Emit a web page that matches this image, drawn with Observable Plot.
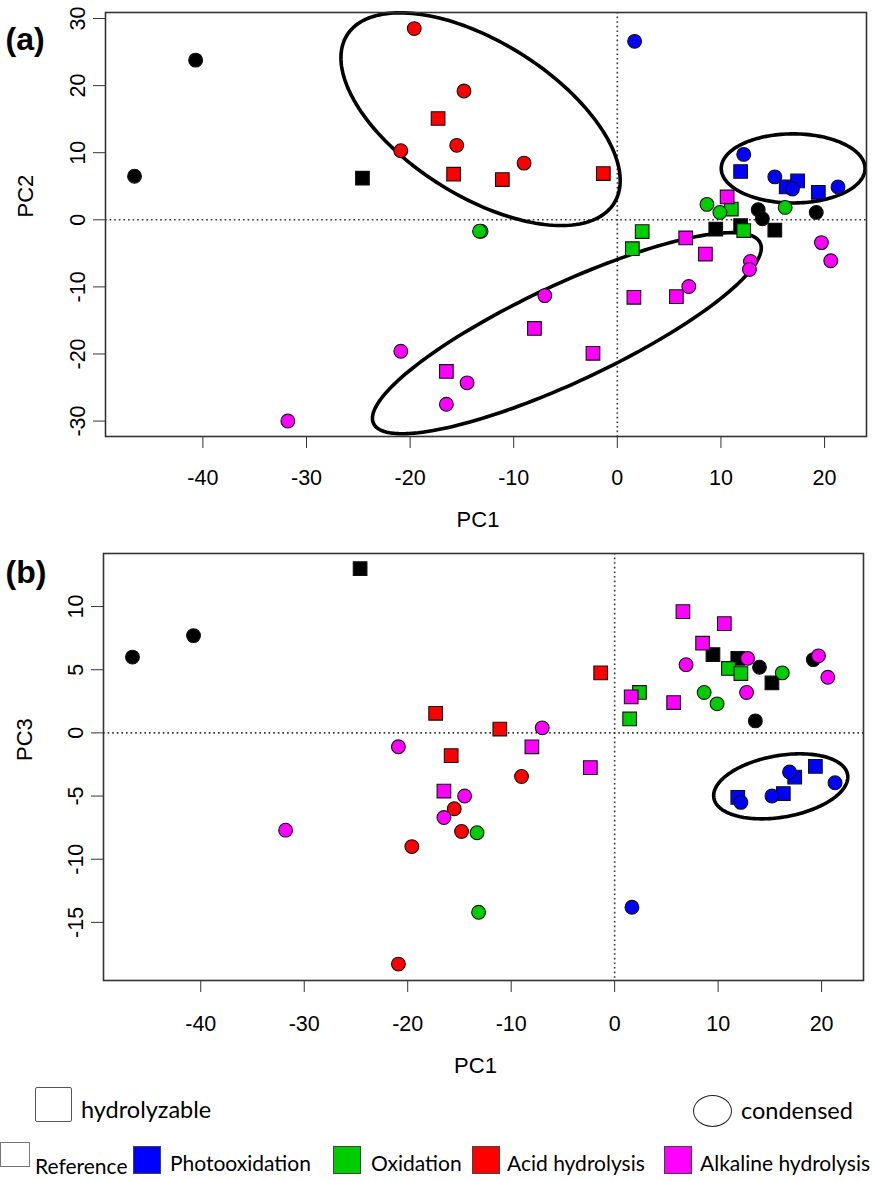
<!DOCTYPE html>
<html>
<head>
<meta charset="utf-8">
<script src="https://cdn.jsdelivr.net/npm/d3@7"></script>
<script src="https://cdn.jsdelivr.net/npm/@observablehq/plot@0.6"></script>
<style>
  html, body { margin: 0; padding: 0; background: #fff; }
  body { width: 874px; height: 1180px; overflow: hidden; font-family: "Liberation Sans", Arial, sans-serif; }
  #panelA, #panelB { display: block; }
  #panelA svg, #panelB svg { display: block; }
  #legend { position: relative; width: 874px; height: 95px; font-family: Lato, "Open Sans", sans-serif; color: #000; }
  #legend .sw { position: absolute; box-sizing: border-box; }
  #legend .lb { position: absolute; white-space: nowrap; line-height: 1; transform: translateY(-50%); }
</style>
</head>
<body>
<div id="panelA"></div>
<div id="panelB"></div>
<div id="legend"></div>
<script>
// ---------- data ----------
const treatments = ["Reference", "Photooxidation", "Oxidation", "Acid hydrolysis", "Alkaline hydrolysis"];
const treatmentColors = ["#000000", "#0000FF", "#00CD00", "#FF0000", "#FF00FF"];
const tanninTypes = ["hydrolyzable", "condensed"];

const sampleTreatment = [
  "Reference","Reference","Reference","Reference","Reference",
  "Reference","Reference","Reference","Reference",
  "Oxidation","Oxidation","Oxidation","Oxidation","Oxidation",
  "Oxidation","Oxidation","Oxidation","Oxidation",
  "Photooxidation","Photooxidation","Photooxidation","Photooxidation","Photooxidation",
  "Photooxidation","Photooxidation","Photooxidation","Photooxidation",
  "Acid hydrolysis","Acid hydrolysis","Acid hydrolysis","Acid hydrolysis","Acid hydrolysis",
  "Acid hydrolysis","Acid hydrolysis","Acid hydrolysis","Acid hydrolysis",
  "Alkaline hydrolysis","Alkaline hydrolysis","Alkaline hydrolysis","Alkaline hydrolysis","Alkaline hydrolysis",
  "Alkaline hydrolysis","Alkaline hydrolysis","Alkaline hydrolysis","Alkaline hydrolysis","Alkaline hydrolysis",
  "Alkaline hydrolysis","Alkaline hydrolysis","Alkaline hydrolysis","Alkaline hydrolysis",
  "Alkaline hydrolysis","Alkaline hydrolysis","Alkaline hydrolysis","Alkaline hydrolysis"
];
const sampleType = [
  "condensed","condensed","condensed","condensed","condensed",
  "hydrolyzable","hydrolyzable","hydrolyzable","hydrolyzable",
  "condensed","condensed","condensed","condensed","condensed",
  "hydrolyzable","hydrolyzable","hydrolyzable","hydrolyzable",
  "condensed","condensed","condensed","condensed","condensed",
  "hydrolyzable","hydrolyzable","hydrolyzable","hydrolyzable",
  "condensed","condensed","condensed","condensed","condensed",
  "hydrolyzable","hydrolyzable","hydrolyzable","hydrolyzable",
  "condensed","condensed","condensed","condensed","condensed",
  "condensed","condensed","condensed","condensed","condensed",
  "hydrolyzable","hydrolyzable","hydrolyzable","hydrolyzable",
  "hydrolyzable","hydrolyzable","hydrolyzable","hydrolyzable"
];
const pc1 = [
  -46.6, -40.7, 13.6, 14.0, 19.2,
  -24.6, 9.5, 11.9, 15.2,
  -13.15, -13.3, 8.65, 9.9, 16.2,
  1.45, 2.4, 11.0, 12.2,
  1.67, 12.2, 15.2, 16.9, 21.3,
  11.9, 16.3, 17.4, 19.4,
  -19.6, -20.9, -15.5, -14.8, -9.0,
  -17.3, -15.8, -11.1, -1.35,
  -31.8, -20.9, -16.5, -14.5, -7.0,
  6.9, 12.85, 12.75, 19.7, 20.6,
  -16.5, -8.0, -2.35, 1.6,
  5.7, 6.6, 8.5, 10.6
];
const pc2 = [
  6.5, 23.8, 1.5, 0.15, 1.1,
  6.2, -1.4, -0.85, -1.55,
  -1.7, -1.7, 2.3, 1.1, 1.85,
  -4.3, -1.75, 1.6, -1.6,
  26.6, 9.75, 6.4, 4.6, 4.9,
  7.2, 4.9, 5.8, 4.1,
  28.5, 10.3, 11.1, 19.2, 8.45,
  15.1, 6.8, 6.0, 6.9,
  -30.0, -19.6, -27.5, -24.3, -11.3,
  -9.95, -6.2, -7.4, -3.4, -6.1,
  -22.6, -16.2, -19.9, -11.55,
  -11.45, -2.7, -5.1, 3.4
];
const pc3 = [
  6.0, 7.7, 0.95, 5.2, 5.8,
  13.0, 6.2, 5.9, 3.95,
  -14.2, -7.9, 3.2, 2.3, 4.75,
  1.1, 3.2, 5.1, 4.7,
  -13.8, -5.5, -5.0, -3.1, -3.95,
  -5.1, -4.8, -3.5, -2.65,
  -9.0, -18.3, -6.0, -7.8, -3.45,
  1.55, -1.8, 0.3, 4.75,
  -7.7, -1.1, -6.7, -5.0, 0.4,
  5.4, 5.9, 3.2, 6.1, 4.4,
  -4.6, -1.1, -2.75, 2.85,
  2.4, 9.6, 7.1, 8.65
];

// group ellipses (centre and two semi-axis vectors, in data units)
const ellipseCentersPC2 = [[-13.2, 15.0], [16.97, 7.66], [-4.87, -16.9]];
const ellipseAxisUPC2 = [[12.9, -12.5], [6.94, 0], [18.66, 13.46]];
const ellipseAxisVPC2 = [[-3.9, -9.75], [0, 5.15], [1.99, -6.58]];
const ellipseCentersPC3 = [[16.05, -4.23]];
const ellipseAxisUPC3 = [[6.46, 0.93]];
const ellipseAxisVPC3 = [[0.52, -2.40]];

const xTicks = [-40, -30, -20, -10, 0, 10, 20];
const yTicksPC2 = [-30, -20, -10, 0, 10, 20, 30];
const yTicksPC3 = [-15, -10, -5, 0, 5, 10];

// ---------- build ----------
const samples = pc1.map((v, i) => ({
  pc1: v, pc2: pc2[i], pc3: pc3[i],
  treatment: sampleTreatment[i], type: sampleType[i]
}));

function ellipseOutline(centers, us, vs) {
  const out = [];
  centers.forEach((c, k) => {
    for (let deg = 0; deg <= 360; deg += 2) {
      const t = deg * Math.PI / 180;
      out.push({
        id: k,
        x: c[0] + Math.cos(t) * us[k][0] + Math.sin(t) * vs[k][0],
        y: c[1] + Math.cos(t) * us[k][1] + Math.sin(t) * vs[k][1]
      });
    }
  });
  return out;
}

const FONT = "'Liberation Sans', Arial, Helvetica, sans-serif";
const fmt = d => String(d);

function panel(opts) {
  const {yKey, yDomain, yTicks, ellipses, yLabel, tag, height, marginTop, marginBottom,
         marginLeft, marginRight, tickPadX, labelDy, tagDx, tagDy, yLabelDx, yLabelDy} = opts;
  return Plot.plot({
    width: 874,
    height,
    marginLeft, marginRight, marginTop, marginBottom,
    style: {fontFamily: FONT, fontSize: "21px", background: "#fff", color: "#000", overflow: "visible"},
    x: {domain: [-49.4, 24.05]},
    y: {domain: yDomain},
    color: {domain: treatments, range: treatmentColors},
    symbol: {domain: tanninTypes, range: ["square", "circle"]},
    r: {type: "identity"},
    marks: [
      Plot.ruleY([0], {stroke: "#333", strokeWidth: 1.6, strokeDasharray: "1.6,3"}),
      Plot.ruleX([0], {stroke: "#333", strokeWidth: 1.6, strokeDasharray: "1.6,3"}),
      Plot.line(ellipses, {x: "x", y: "y", z: "id", stroke: "#000", strokeWidth: 3.6, curve: "linear"}),
      Plot.dot(samples, {
        x: "pc1", y: yKey, fill: "treatment", symbol: "type",
        r: d => d.type === "hydrolyzable" ? 7.7 : 6.9,
        stroke: "#111", strokeWidth: 1.1
      }),
      Plot.frame({stroke: "#333", strokeWidth: 1.6}),
      Plot.axisX({ticks: xTicks, tickFormat: fmt, tickSize: 12, tickPadding: tickPadX, label: null, fontSize: 21.5, stroke: "#333"}),
      Plot.axisY({ticks: yTicks, tickFormat: fmt, tickSize: 12, tickPadding: 9, tickRotate: -90, label: null, fontSize: 21.5, stroke: "#333"}),
      Plot.text(["PC1"], {frameAnchor: "bottom", dx: -8, dy: labelDy, fontSize: 22}),
      Plot.text([yLabel], {frameAnchor: "left", dx: yLabelDx, dy: yLabelDy, rotate: -90, fontSize: 22}),
      Plot.text([tag], {frameAnchor: "top-left", dx: tagDx, dy: tagDy, textAnchor: "start", fontSize: 32, fontWeight: "bold"})
    ]
  });
}

document.getElementById("panelA").append(panel({
  yKey: "pc2", yDomain: [-32.3, 30.9], yTicks: yTicksPC2,
  ellipses: ellipseOutline(ellipseCentersPC2, ellipseAxisUPC2, ellipseAxisVPC2),
  yLabel: "PC2", tag: "(a)", height: 540, marginTop: 12, marginBottom: 104,
  marginLeft: 105, marginRight: 8, tickPadX: 21, labelDy: 90,
  tagDx: -100, tagDy: 15, yLabelDx: -80, yLabelDy: -7
}));

document.getElementById("panelB").append(panel({
  yKey: "pc3", yDomain: [-19.6, 14.2], yTicks: yTicksPC3,
  ellipses: ellipseOutline(ellipseCentersPC3, ellipseAxisUPC3, ellipseAxisVPC3),
  yLabel: "PC3", tag: "(b)", height: 545, marginTop: 13, marginBottom: 105,
  marginLeft: 103, marginRight: 11, tickPadX: 23, labelDy: 92,
  tagDx: -98, tagDy: 7, yLabelDx: -79, yLabelDy: -6
}));

// ---------- legend ----------
const legend = document.getElementById("legend");
function add(cls, css, text) {
  const el = document.createElement("div");
  el.className = cls;
  Object.assign(el.style, css);
  if (text) el.textContent = text;
  legend.append(el);
  return el;
}
// shape legend
add("sw", {left: "35px", top: "2px", width: "37px", height: "35px", border: "1.5px solid #555", borderRadius: "2px", background: "#fff"});
add("lb", {left: "81px", top: "25px", fontSize: "23.5px"}, tanninTypes[0]);
add("sw", {left: "693px", top: "10px", width: "39px", height: "32px", border: "1.5px solid #222", borderRadius: "50%", background: "#fff"});
add("lb", {left: "741px", top: "26px", fontSize: "23.5px"}, tanninTypes[1]);
// colour legend
const swLeft = [0, 133, 333, 472, 664];
const lbLeft = [35, 170, 371, 507, 700];
treatments.forEach((t, i) => {
  const isRef = i === 0;
  add("sw", {
    left: swLeft[i] + "px", top: (isRef ? 57 : 61) + "px",
    width: (isRef ? 30 : 28) + "px", height: (isRef ? 25 : 28) + "px",
    border: "1.5px solid " + (isRef ? "#777" : "#444"),
    background: isRef ? "#fff" : treatmentColors[i]
  });
  add("lb", {left: lbLeft[i] + "px", top: (isRef ? 80 : 77) + "px", fontSize: "21px"}, t);
});
</script>
</body>
</html>
